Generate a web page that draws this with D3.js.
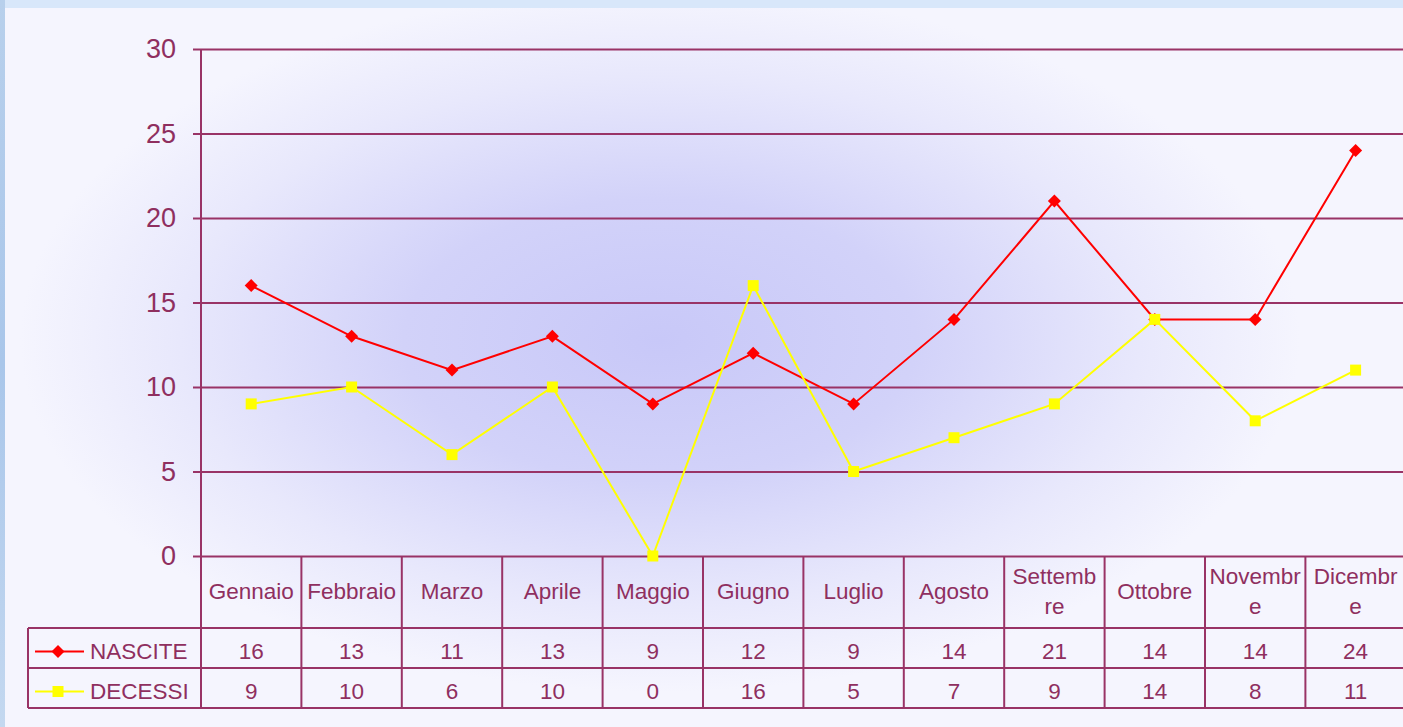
<!DOCTYPE html>
<html>
<head>
<meta charset="utf-8">
<script src="https://cdn.jsdelivr.net/npm/d3@7"></script>
<style>
	html, body { margin: 0; padding: 0; background: #d8e6f8; overflow: hidden; }
	svg { display: block; font-family: "Liberation Sans", Arial, sans-serif; }
</style>
</head>
<body>
<svg id="chart" width="1403" height="727"></svg>
<script>
// dati del grafico
const months = ['Gennaio', 'Febbraio', 'Marzo', 'Aprile', 'Maggio', 'Giugno', 'Luglio', 'Agosto', 'Settembre', 'Ottobre', 'Novembre', 'Dicembre'];
const monthLabels = [['Gennaio'], ['Febbraio'], ['Marzo'], ['Aprile'], ['Maggio'], ['Giugno'], ['Luglio'], ['Agosto'], ['Settemb', 're'], ['Ottobre'], ['Novembr', 'e'], ['Dicembr', 'e']];
const nascite = [16, 13, 11, 13, 9, 12, 9, 14, 21, 14, 14, 24];
const decessi = [9, 10, 6, 10, 0, 16, 5, 7, 9, 14, 8, 11];
const yTicks = [0, 5, 10, 15, 20, 25, 30];

const series = [
	{ name: 'NASCITE', values: nascite, color: '#ff0000', marker: 'diamond' },
	{ name: 'DECESSI', values: decessi, color: '#ffff00', marker: 'square' }
];

const W = 1403, H = 727;
const ink = '#993366';
const textInk = '#8f2f5f';
const margin = { top: 49, left: 201, bottom: 556 };
const plotRight = 201 + 12 * 100.4;
const headerBottom = 628;
const rowH = 40;
const legendLeft = 28;
const fontTable = 22.5;

const svg = d3.select('#chart');
const defs = svg.append('defs');

// sfondo
const side = defs.append('linearGradient').attr('id', 'side').attr('x1', 0).attr('y1', 0).attr('x2', 0).attr('y2', 1);
side.append('stop').attr('offset', '0%').attr('stop-color', '#b8d0ec');
side.append('stop').attr('offset', '50%').attr('stop-color', '#a9c6ea');
side.append('stop').attr('offset', '100%').attr('stop-color', '#c4d8f0');
svg.append('rect').attr('width', W).attr('height', H).attr('fill', '#d8e7fa');
svg.append('rect').attr('width', 5).attr('height', H).attr('fill', 'url(#side)');

const glow = defs.append('radialGradient').attr('id', 'glow')
	.attr('gradientUnits', 'userSpaceOnUse')
	.attr('cx', 660).attr('cy', 340).attr('r', 640)
	.attr('gradientTransform', 'translate(660,340) scale(1,0.55) translate(-660,-340)');
glow.append('stop').attr('offset', '0%').attr('stop-color', '#c8c8f8');
glow.append('stop').attr('offset', '40%').attr('stop-color', '#d2d2f9');
glow.append('stop').attr('offset', '75%').attr('stop-color', '#e8e8fc');
glow.append('stop').attr('offset', '100%').attr('stop-color', '#f5f5fe');

svg.append('rect').attr('x', 5).attr('y', 8).attr('width', W - 5).attr('height', H - 8).attr('fill', '#f5f5fe');
svg.append('rect').attr('x', 5).attr('y', 8).attr('width', W - 5).attr('height', H - 8).attr('fill', 'url(#glow)');

// scale
const x = d3.scaleBand().domain(months).range([margin.left, plotRight]);
const y = d3.scaleLinear().domain([0, 30]).range([margin.bottom, margin.top]);

// griglia + asse y
const yAxis = g => g
	.attr('transform', `translate(${margin.left},0)`)
	.call(d3.axisLeft(y).tickValues(yTicks).tickSize(8).tickPadding(17))
	.call(g => g.select('.domain').remove())
	.call(g => g.selectAll('line').attr('stroke', ink).attr('stroke-width', 2))
	.call(g => g.selectAll('.tick').append('line')
		.attr('x1', 0).attr('x2', plotRight - margin.left)
		.attr('stroke', ink).attr('stroke-width', 2))
	.call(g => g.selectAll('text').attr('fill', textInk).attr('font-size', 27).attr('font-family', '"Liberation Sans", Arial, sans-serif'));
svg.append('g').call(yAxis);

// tabella dati
const table = svg.append('g').attr('stroke', ink).attr('stroke-width', 2).attr('fill', 'none');
table.append('line').attr('x1', margin.left).attr('x2', margin.left).attr('y1', margin.top).attr('y2', headerBottom + 2 * rowH);
months.forEach(m => {
	const xr = x(m) + x.bandwidth();
	table.append('line').attr('x1', xr).attr('x2', xr).attr('y1', margin.bottom).attr('y2', headerBottom + 2 * rowH);
});
[headerBottom, headerBottom + rowH, headerBottom + 2 * rowH].forEach(yy => {
	table.append('line').attr('x1', legendLeft).attr('x2', plotRight).attr('y1', yy).attr('y2', yy);
});
table.append('line').attr('x1', legendLeft).attr('x2', legendLeft).attr('y1', headerBottom).attr('y2', headerBottom + 2 * rowH);

// intestazioni mesi
const head = svg.append('g').attr('fill', textInk).attr('font-size', fontTable).attr('text-anchor', 'middle');
months.forEach((m, i) => {
	const lines = monthLabels[i];
	const cx = x(m) + x.bandwidth() / 2;
	const cy = (margin.bottom + headerBottom) / 2 - 1;
	lines.forEach((t, j) => {
		head.append('text').attr('x', cx)
			.attr('y', cy + (j - (lines.length - 1) / 2) * 30)
			.attr('dy', '0.35em').text(t);
	});
});

// righe valori + legenda
series.forEach((s, si) => {
	const cy = headerBottom + si * rowH + rowH / 2;
	const ty = cy + 3.5;
	const row = svg.append('g').attr('fill', textInk).attr('font-size', fontTable).attr('text-anchor', 'middle');
	s.values.forEach((v, i) => {
		row.append('text').attr('x', x(months[i]) + x.bandwidth() / 2).attr('y', ty).attr('dy', '0.35em').text(v);
	});
	svg.append('line').attr('x1', 35).attr('x2', 84).attr('y1', ty).attr('y2', ty)
		.attr('stroke', s.color).attr('stroke-width', 2);
	svg.append('path').attr('d', markerPath(s.marker)).attr('transform', `translate(58,${ty})`).attr('fill', s.color);
	svg.append('text').attr('x', 90).attr('y', ty).attr('dy', '0.35em')
		.attr('fill', textInk).attr('font-size', fontTable).text(s.name);
});

function markerPath(type) {
	if (type === 'diamond') return 'M0,-6.5L6.5,0L0,6.5L-6.5,0Z';
	return 'M-5.5,-5.5H5.5V5.5H-5.5Z';
}

// linee
const line = d3.line()
	.x((d, i) => x(months[i]) + x.bandwidth() / 2)
	.y(d => y(d));

series.forEach(s => {
	svg.append('path').datum(s.values)
		.attr('d', line).attr('fill', 'none')
		.attr('stroke', s.color).attr('stroke-width', 2);
	svg.append('g').selectAll('path').data(s.values).enter().append('path')
		.attr('d', markerPath(s.marker))
		.attr('transform', (d, i) => `translate(${x(months[i]) + x.bandwidth() / 2},${y(d)})`)
		.attr('fill', s.color);
});
</script>
</body>
</html>
